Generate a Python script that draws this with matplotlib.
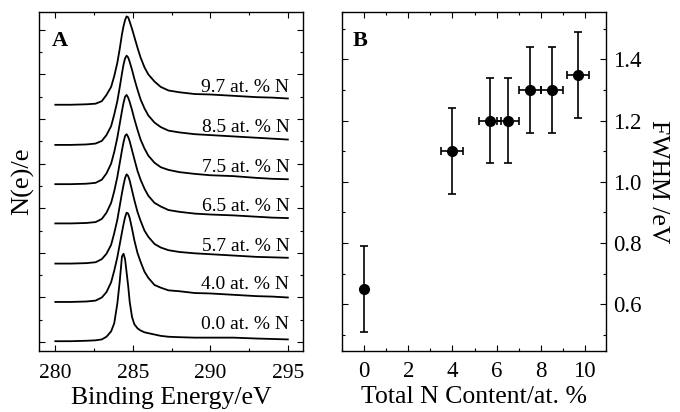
import numpy as np
import matplotlib
matplotlib.use("Agg")
import matplotlib.pyplot as plt
from matplotlib.ticker import MultipleLocator

plt.rcParams['font.family'] = ['Liberation Serif', 'DejaVu Serif']
plt.rcParams['mathtext.fontset'] = 'stix'

# Panel A: C 1s spectra, normalised intensity
energy = [280.0, 281.0, 282.0, 282.6, 283.0, 283.3, 283.6, 283.8, 284.0, 284.15,
          284.3, 284.4, 284.5, 284.6, 284.7, 284.8, 284.95, 285.1, 285.3, 285.5,
          285.75, 286.0, 286.4, 286.8, 287.3, 288.0, 289.0, 290.0, 291.5, 293.0,
          294.0, 295.0]

n00 = [0.0, 0.0, 0.005, 0.01, 0.02, 0.05, 0.11, 0.20, 0.42, 0.66, 0.95, 0.98, 0.92,
       0.77, 0.62, 0.44, 0.27, 0.19, 0.145, 0.12, 0.10, 0.09, 0.075, 0.06, 0.05,
       0.045, 0.04, 0.04, 0.04, 0.03, 0.025, 0.02]
n40 = [0.0, 0.0, 0.005, 0.015, 0.05, 0.11, 0.22, 0.35, 0.50, 0.64, 0.78, 0.87, 0.95,
       1.0, 0.99, 0.94, 0.82, 0.69, 0.55, 0.45, 0.34, 0.27, 0.19, 0.16, 0.13, 0.12,
       0.10, 0.095, 0.08, 0.065, 0.06, 0.05]
n57 = [0.0, 0.0, 0.005, 0.015, 0.05, 0.11, 0.21, 0.34, 0.49, 0.64, 0.79, 0.88, 0.96,
       1.0, 0.98, 0.93, 0.82, 0.71, 0.58, 0.48, 0.37, 0.30, 0.22, 0.18, 0.15, 0.13,
       0.115, 0.105, 0.09, 0.075, 0.07, 0.065]
n65 = [0.0, 0.0, 0.005, 0.015, 0.05, 0.12, 0.23, 0.36, 0.52, 0.67, 0.82, 0.91, 0.98,
       1.0, 0.97, 0.92, 0.82, 0.72, 0.59, 0.49, 0.39, 0.31, 0.23, 0.19, 0.15, 0.13,
       0.11, 0.10, 0.09, 0.075, 0.065, 0.06]
n75 = [0.0, 0.0, 0.005, 0.015, 0.05, 0.12, 0.23, 0.36, 0.52, 0.67, 0.82, 0.91, 0.98,
       1.0, 0.97, 0.92, 0.83, 0.73, 0.61, 0.50, 0.40, 0.32, 0.24, 0.19, 0.16, 0.135,
       0.115, 0.10, 0.09, 0.07, 0.06, 0.055]
n85 = [0.0, 0.0, 0.005, 0.015, 0.045, 0.11, 0.21, 0.34, 0.49, 0.64, 0.80, 0.90, 0.97,
       1.0, 0.98, 0.93, 0.84, 0.74, 0.62, 0.51, 0.41, 0.33, 0.25, 0.20, 0.16, 0.14,
       0.12, 0.11, 0.095, 0.08, 0.07, 0.06]
n97 = [0.0, 0.0, 0.005, 0.012, 0.04, 0.11, 0.20, 0.32, 0.47, 0.62, 0.79, 0.88, 0.95,
       0.99, 0.98, 0.93, 0.85, 0.76, 0.64, 0.53, 0.42, 0.34, 0.26, 0.20, 0.16, 0.14,
       0.12, 0.115, 0.10, 0.085, 0.08, 0.07]

spectra = [n00, n40, n57, n65, n75, n85, n97]
spectrum_labels = ['0.0 at. % N', '4.0 at. % N', '5.7 at. % N', '6.5 at. % N',
                   '7.5 at. % N', '8.5 at. % N', '9.7 at. % N']
offsets = [0.01, 0.45, 0.88, 1.33, 1.77, 2.21, 2.66]

# Panel B: FWHM vs total N content
n_content = [0.0, 4.0, 5.7, 6.5, 7.5, 8.5, 9.7]
n_content_err = [0.0, 0.5, 0.5, 0.5, 0.5, 0.5, 0.5]
fwhm = [0.65, 1.10, 1.20, 1.20, 1.30, 1.30, 1.35]
fwhm_err = [0.14, 0.14, 0.14, 0.14, 0.14, 0.14, 0.14]

fig = plt.figure(figsize=(6.8, 4.12), dpi=100)
ax1 = fig.add_axes([0.0574, 0.148, 0.388, 0.823])
ax2 = fig.add_axes([0.503, 0.148, 0.388, 0.823])

for ax in (ax1, ax2):
    ax.tick_params(which='both', direction='in', top=True, right=True, width=0.8)
    ax.tick_params(which='major', length=4)
    ax.tick_params(which='minor', length=2.5)
    for s in ax.spines.values():
        s.set_linewidth(1.0)

# --- A ---
for spec, off, lab in zip(spectra, offsets, spectrum_labels):
    ax1.plot(energy, np.array(spec) + off, color='black', lw=1.3)
    ax1.text(295.1, off + 0.14, lab, ha='right', va='baseline', fontsize=14)

ax1.set_xlim(278.95, 295.97)
ax1.set_ylim(-0.10, 3.70)
ax1.xaxis.set_major_locator(MultipleLocator(5))
ax1.xaxis.set_minor_locator(MultipleLocator(2.5))
ax1.yaxis.set_major_locator(MultipleLocator(0.5))
ax1.yaxis.set_minor_locator(MultipleLocator(0.25))
ax1.tick_params(axis='y', labelleft=False)
ax1.tick_params(axis='x', labelsize=15.5, pad=9)
ax1.set_xlabel('Binding Energy/eV', fontsize=18.5, labelpad=3)
ax1.set_ylabel('N(e)/e', fontsize=19, labelpad=0)
ax1.text(0.048, 0.9, 'A', transform=ax1.transAxes, fontsize=16,
         fontweight='bold')

# --- B ---
ax2.errorbar(n_content, fwhm, yerr=fwhm_err, xerr=n_content_err, fmt='o',
             color='black', ms=7, elinewidth=1.2, capsize=3, capthick=1.2)
ax2.set_xlim(-1.01, 10.96)
ax2.set_ylim(0.447, 1.555)
ax2.xaxis.set_major_locator(MultipleLocator(2))
ax2.xaxis.set_minor_locator(MultipleLocator(1))
ax2.yaxis.set_major_locator(MultipleLocator(0.2))
ax2.yaxis.set_minor_locator(MultipleLocator(0.1))
ax2.tick_params(axis='y', labelleft=False, labelright=True, labelsize=16.5, pad=5)
ax2.tick_params(axis='x', labelsize=16.5, pad=7)
ax2.yaxis.set_label_position('right')
ax2.set_ylabel('FWHM /eV', fontsize=18.5, rotation=270, labelpad=20)
ax2.set_xlabel('Total N Content/at. %', fontsize=18.5, labelpad=3)
ax2.text(0.04, 0.9, 'B', transform=ax2.transAxes, fontsize=16,
         fontweight='bold')

fig.savefig('out.png', dpi=100)
